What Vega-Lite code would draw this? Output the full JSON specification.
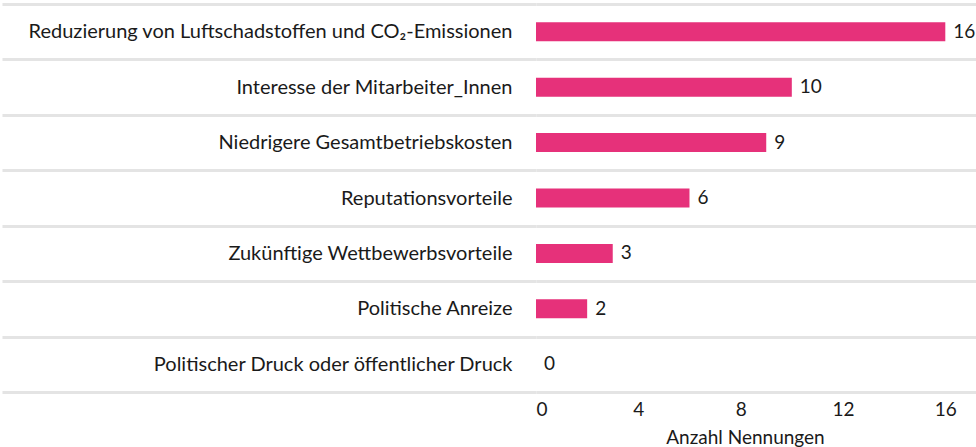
{
  "$schema": "https://vega.github.io/schema/vega-lite/v6.json",
  "width": 976,
  "height": 447,
  "autosize": {"type": "fit", "contains": "padding"},
  "padding": {"left": 0, "top": -6, "right": 0, "bottom": 0},
  "background": "white",
  "config": {
    "view": {"stroke": null},
    "font": "Lato",
    "text": {"font": "Lato"}
  },
  "data": {
    "values": [
      {"grund": "Reduzierung von Luftschadstoffen und CO₂-Emissionen", "anzahl": 16},
      {"grund": "Interesse der Mitarbeiter_Innen", "anzahl": 10},
      {"grund": "Niedrigere Gesamtbetriebskosten", "anzahl": 9},
      {"grund": "Reputationsvorteile", "anzahl": 6},
      {"grund": "Zukünftige Wettbewerbsvorteile", "anzahl": 3},
      {"grund": "Politische Anreize", "anzahl": 2},
      {"grund": "Politischer Druck oder öffentlicher Druck", "anzahl": 0}
    ]
  },
  "encoding": {
    "y": {
      "field": "grund",
      "type": "nominal",
      "sort": null,
      "scale": {"paddingInner": 0, "paddingOuter": 0},
      "axis": {
        "title": null,
        "domain": false,
        "tickBand": "extent",
        "tickSize": 534,
        "tickWidth": 3,
        "tickColor": "#e4e4e4",
        "grid": true,
        "gridColor": "#e4e4e4",
        "gridWidth": 3,
        "labelPadding": -510,
        "labelFontSize": 20,
        "labelColor": "#1a1a1a",
        "labelFont": "Lato",
        "labelLimit": 600
      }
    },
    "x": {
      "field": "anzahl",
      "type": "quantitative",
      "scale": {"domain": [0, 17.2], "nice": false},
      "axis": {
        "title": "Anzahl Nennungen",
        "values": [0, 4, 8, 12, 16],
        "grid": false,
        "domain": false,
        "ticks": false,
        "labelFontSize": 19,
        "labelColor": "#1a1a1a",
        "labelFont": "Lato",
        "labelPadding": 8,
        "titleFontSize": 19,
        "titleFontWeight": "normal",
        "titleColor": "#1a1a1a",
        "titleFont": "Lato",
        "titlePadding": 9,
        "titleX": 209
      }
    }
  },
  "layer": [
    {
      "mark": {"type": "bar", "color": "#e6317a", "height": 19}
    },
    {
      "mark": {"type": "text", "align": "left", "baseline": "middle", "dx": 8, "fontSize": 19, "color": "#1a1a1a", "font": "Lato"},
      "encoding": {"text": {"field": "anzahl", "type": "quantitative"}}
    }
  ]
}
